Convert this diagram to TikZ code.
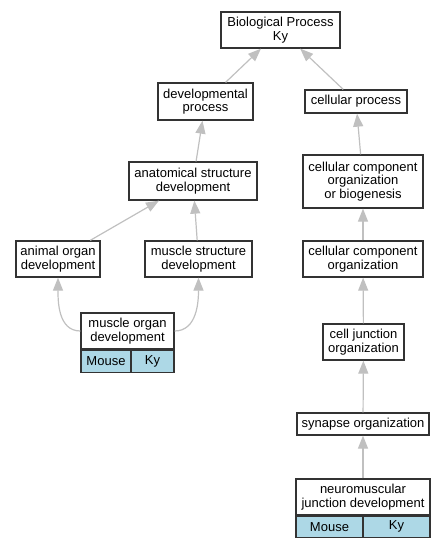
\documentclass[tikz,border=0pt]{standalone}
\usepackage{fontspec}
\setmainfont{Liberation Sans}
\usepackage{xcolor}
\usepackage{tikz}
\usetikzlibrary{arrows.meta, positioning}
\definecolor{termblue}{HTML}{ADD8E6}
\definecolor{linkgray}{HTML}{C0C0C0}

\begin{document}
\begin{tikzpicture}[
    x=1pt, y=1pt,
    box/.style={
        draw=black!80,
        line width=1.3pt,
        fill=white,
        align=center,
        inner sep=0pt,
        font=\fontsize{13}{13.3}\selectfont
    },
    cell/.style={
        box,
        fill=termblue
    },
    link/.style={
        color=linkgray,
        line width=1.2pt,
        -{Triangle[length=13pt, width=10pt]}
    }
]
\useasboundingbox (0,0) rectangle (447,-547);

% Terms
\node[box, minimum width=119pt, minimum height=36pt] (bp) at (280.5,-30) {Biological Process\\Ky};
\node[box, minimum width=95pt, minimum height=37pt] (dev) at (205.5,-101.5) {developmental\\process};
\node[box, minimum width=102pt, minimum height=23pt] (cell) at (356,-101.5) {cellular process};
\node[box, minimum width=128pt, minimum height=38pt] (anat) at (193,-181) {anatomical structure\\development};
\node[box, minimum width=120pt, minimum height=53pt] (ccob) at (363,-181.5) {cellular component\\organization\\or biogenesis};
\node[box, minimum width=84pt, minimum height=36pt] (animal) at (58,-259) {animal organ\\development};
\node[box, minimum width=107pt, minimum height=36pt] (muscstr) at (198.5,-259) {muscle structure\\development};
\node[box, minimum width=120pt, minimum height=36pt] (cco) at (363,-259) {cellular component\\organization};
\node[box, minimum width=93pt, minimum height=36pt] (muscorg) at (127.5,-331) {muscle organ\\development};
\node[box, minimum width=81pt, minimum height=36pt] (cj) at (363.5,-342) {cell junction\\organization};
\node[box, minimum width=132pt, minimum height=22pt] (syn) at (363,-424) {synapse organization};
\node[box, minimum width=134pt, minimum height=36pt] (nmj) at (363,-497) {neuromuscular\\junction development};

% Annotations
\node[cell, minimum width=50pt, minimum height=22pt, below right=0pt and 0pt of muscorg.south west] (muscorgmouse) {Mouse};
\node[cell, minimum width=43pt, minimum height=22pt, below left=0pt and 0pt of muscorg.south east] (muscorgky) {Ky};
\node[cell, minimum width=67pt, minimum height=21pt, below right=0pt and 0pt of nmj.south west] (nmjmouse) {Mouse};
\node[cell, minimum width=67pt, minimum height=21pt, below left=0pt and 0pt of nmj.south east] (nmjky) {Ky};

% Links
\path[link]
    (dev) edge (bp)
    (cell) edge (bp)
    (anat) edge (dev)
    (ccob) edge (cell)
    (animal) edge (anat)
    (muscstr) edge (anat)
    (cco) edge (ccob)
    (muscorg.west) edge[out=180, in=-90] (animal.south)
    (muscorg.east) edge[out=0, in=-90] (muscstr.south)
    (cj) edge (cco)
    (syn) edge (cj)
    (nmj) edge (syn);
\end{tikzpicture}
\end{document}
